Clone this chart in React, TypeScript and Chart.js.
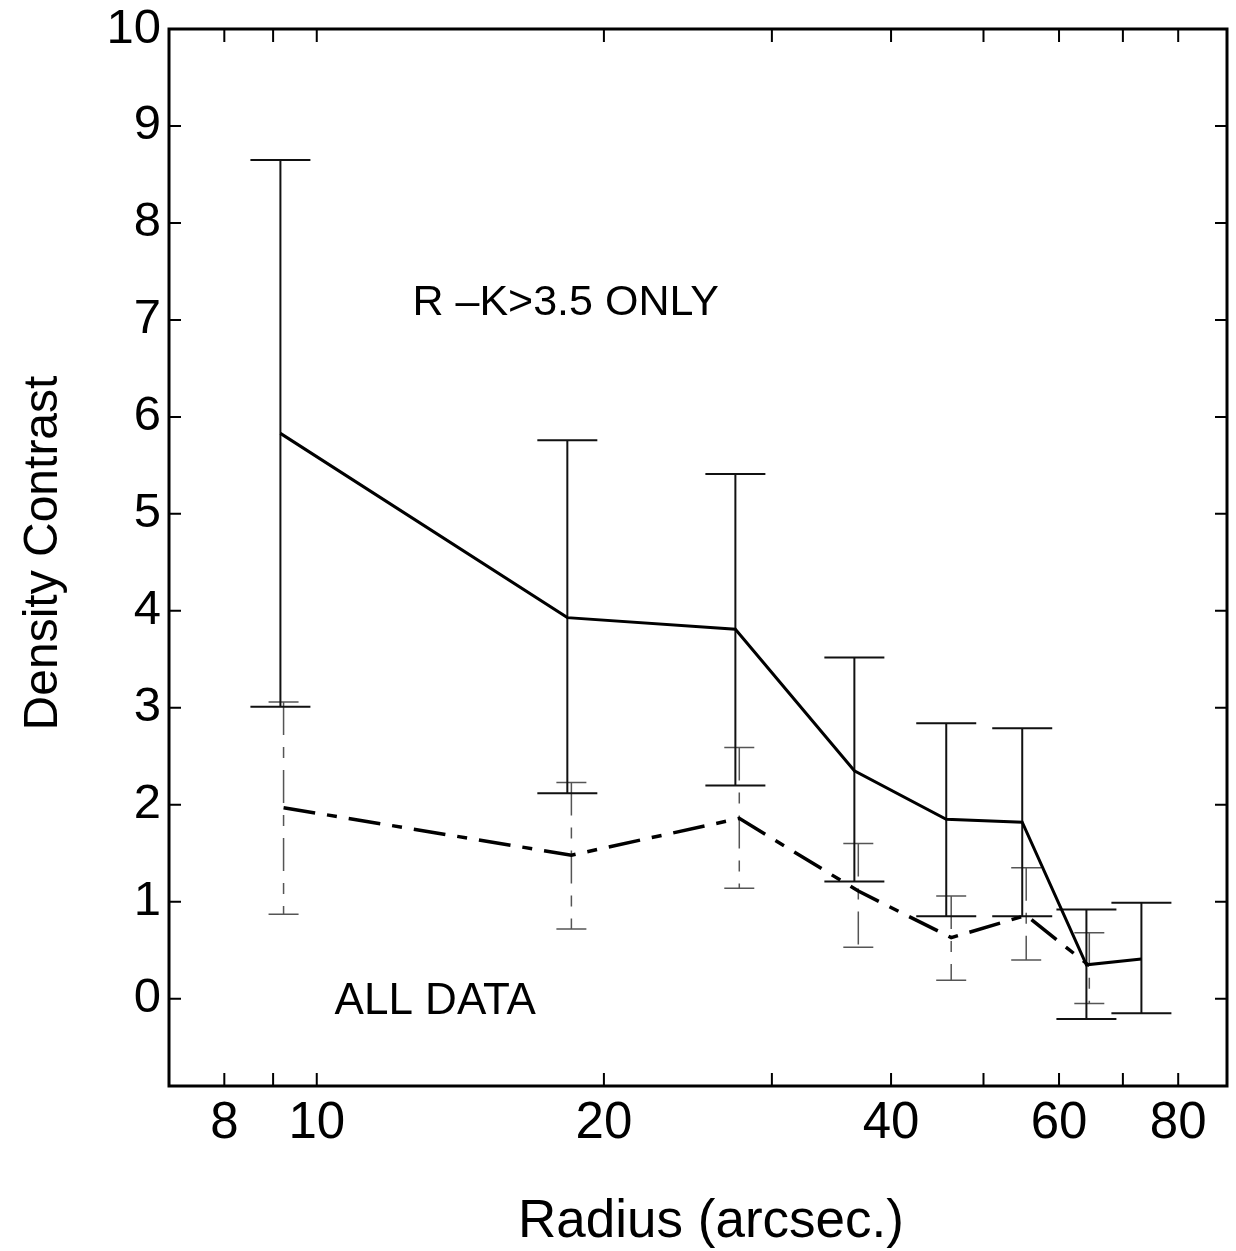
import React, { useEffect, useRef } from "react";
import { Chart, registerables } from "chart.js";

Chart.register(...registerables);

// R-K > 3.5 only (solid line)
const radiusRed = [9.16, 18.31, 27.47, 36.61, 45.7, 54.9, 64.1, 73.2];
const contrastRed = [5.83, 3.93, 3.81, 2.35, 1.85, 1.82, 0.35, 0.41];
const redLow = [3.01, 2.12, 2.2, 1.21, 0.85, 0.85, -0.21, -0.15];
const redHigh = [8.65, 5.76, 5.41, 3.52, 2.84, 2.79, 0.92, 0.99];

// All data (dash-dot line)
const radiusAll = [9.23, 18.49, 27.73, 36.96, 46.25, 55.43, 64.55];
const contrastAll = [1.97, 1.48, 1.86, 1.11, 0.63, 0.86, 0.34];
const allLow = [0.87, 0.72, 1.14, 0.53, 0.19, 0.4, -0.05];
const allHigh = [3.06, 2.23, 2.59, 1.6, 1.06, 1.35, 0.68];

const xTicks = [8, 9, 10, 20, 30, 40, 50, 60, 70, 80];
const xLabeled = [8, 10, 20, 40, 60, 80];
const yTicks = [0, 1, 2, 3, 4, 5, 6, 7, 8, 9, 10];

const xTitle = "Radius (arcsec.)";
const yTitle = "Density Contrast";

const FONT = '"Liberation Sans", Arial, Helvetica, sans-serif';

const overlay = {
  id: "overlay",
  beforeDatasetsDraw(chart: any) {
    const { ctx, scales } = chart;
    const x = scales.x;
    const y = scales.y;
    const drawBars = (
      xs: number[],
      lo: number[],
      hi: number[],
      half: number,
      color: string,
      width: number,
      dash: number[]
    ) => {
      ctx.save();
      ctx.strokeStyle = color;
      ctx.lineWidth = width;
      xs.forEach((xv, i) => {
        const px = x.getPixelForValue(xv);
        const pl = y.getPixelForValue(lo[i]);
        const ph = y.getPixelForValue(hi[i]);
        ctx.setLineDash(dash);
        ctx.beginPath();
        ctx.moveTo(px, ph);
        ctx.lineTo(px, pl);
        ctx.stroke();
        ctx.setLineDash([]);
        ctx.beginPath();
        ctx.moveTo(px - half, ph);
        ctx.lineTo(px + half, ph);
        ctx.moveTo(px - half, pl);
        ctx.lineTo(px + half, pl);
        ctx.stroke();
      });
      ctx.restore();
    };
    drawBars(radiusAll, allLow, allHigh, 15, "#555", 1.5, [33, 12, 11, 12]);
    drawBars(radiusRed, redLow, redHigh, 30, "#111", 2, []);
  },
  afterDraw(chart: any) {
    const { ctx, chartArea: a, scales } = chart;
    const x = scales.x;
    const y = scales.y;
    ctx.save();
    ctx.strokeStyle = "#000";
    ctx.lineWidth = 2;
    ctx.beginPath();
    xTicks.forEach((v) => {
      const px = x.getPixelForValue(v);
      ctx.moveTo(px, a.bottom);
      ctx.lineTo(px, a.bottom - 13);
      ctx.moveTo(px, a.top);
      ctx.lineTo(px, a.top + 13);
    });
    yTicks.forEach((v) => {
      const py = y.getPixelForValue(v);
      ctx.moveTo(a.left, py);
      ctx.lineTo(a.left + 12, py);
      ctx.moveTo(a.right, py);
      ctx.lineTo(a.right - 12, py);
    });
    ctx.stroke();
    ctx.lineWidth = 3;
    ctx.strokeRect(a.left, a.top, a.right - a.left, a.bottom - a.top);

    ctx.fillStyle = "#000";
    ctx.font = `43px ${FONT}`;
    ctx.textAlign = "left";
    ctx.textBaseline = "alphabetic";
    ctx.fillText("R \u2013K>3.5 ONLY", x.getPixelForValue(12.6), y.getPixelForValue(7.05));
    ctx.font = `44px ${FONT}`;
    ctx.fillText("ALL DATA", x.getPixelForValue(10.44), y.getPixelForValue(-0.155));

    // axis titles
    ctx.font = `53px ${FONT}`;
    ctx.textAlign = "center";
    ctx.fillText(xTitle, 711, 1237);
    ctx.save();
    ctx.translate(57, 553);
    ctx.rotate(-Math.PI / 2);
    ctx.font = `48px ${FONT}`;
    ctx.fillText(yTitle, 0, 0);
    ctx.restore();
    ctx.restore();
  },
};

export default function App() {
  const ref = useRef<HTMLCanvasElement | null>(null);
  useEffect(() => {
    if (!ref.current) return;
    const chart = new Chart(ref.current, {
      type: "line",
      data: {
        datasets: [
          {
            label: "R-K>3.5 only",
            data: radiusRed.map((r, i) => ({ x: r, y: contrastRed[i] })),
            borderColor: "#000",
            borderWidth: 3,
            pointRadius: 0,
            tension: 0,
            fill: false,
          },
          {
            label: "All data",
            data: radiusAll.map((r, i) => ({ x: r, y: contrastAll[i] })),
            borderColor: "#000",
            borderWidth: 3.5,
            borderDash: [32, 12, 10, 12],
            pointRadius: 0,
            tension: 0,
            fill: false,
          },
        ],
      },
      plugins: [overlay],
      options: {
        animation: false,
        responsive: false,
        devicePixelRatio: 1,
        layout: { padding: { top: 29, right: 9, left: 0, bottom: 0 } },
        plugins: { legend: { display: false }, tooltip: { enabled: false } },
        scales: {
          x: {
            type: "logarithmic",
            position: "bottom",
            min: 7,
            max: 90,
            grid: { display: false, drawTicks: false },
            border: { display: false },
            afterBuildTicks: (s: any) => {
              s.ticks = xTicks.map((v) => ({ value: v }));
            },
            afterFit: (s: any) => {
              s.height = 165;
              s.paddingLeft = 0;
              s.paddingRight = 0;
            },
            ticks: {
              autoSkip: false,
              maxRotation: 0,
              minRotation: 0,
              padding: 7,
              color: "#000",
              font: { size: 51, family: FONT },
              callback: (v: any) => (xLabeled.includes(Number(v)) ? String(v) : ""),
            },
          },
          y: {
            type: "linear",
            position: "left",
            min: -0.9,
            max: 10,
            grid: { display: false, drawTicks: false },
            border: { display: false },
            afterBuildTicks: (s: any) => {
              s.ticks = yTicks.map((v) => ({ value: v }));
            },
            afterFit: (s: any) => {
              s.width = 169;
              s.paddingTop = 0;
              s.paddingBottom = 0;
            },
            ticks: {
              padding: 8,
              color: "#000",
              font: { size: 49, family: FONT },
              callback: (v: any) => String(v),
            },
          },
        },
      },
    } as any);
    return () => chart.destroy();
  }, []);
  return (
    <div style={{ position: "fixed", left: 0, top: 0, width: 1236, height: 1251, background: "#fff" }}>
      <canvas ref={ref} width={1236} height={1251} style={{ display: "block" }} />
    </div>
  );
}
